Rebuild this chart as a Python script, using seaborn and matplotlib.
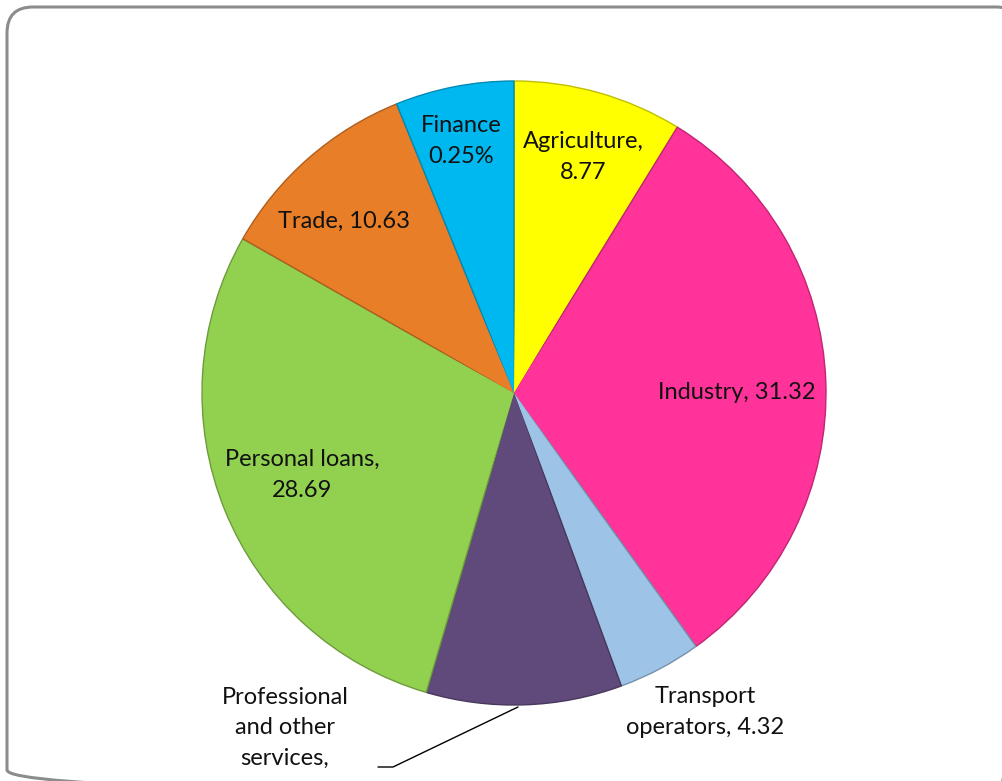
import matplotlib
matplotlib.use("Agg")
import matplotlib.pyplot as plt
from matplotlib.patches import FancyBboxPatch, Wedge
import matplotlib.colors as mcolors
import seaborn as sns
import numpy as np

# ---- data ----
categories = ["Agriculture", "Industry", "Transport operators",
              "Professional and other services", "Personal loans", "Trade", "Finance"]
values = [8.77, 31.32, 4.32, 10.13, 28.69, 10.63, 6.14]
label_texts = ["Agriculture,\n8.77", "Industry, 31.32", "Transport\noperators, 4.32",
               "Professional\nand other\nservices,", "Personal loans,\n28.69",
               "Trade, 10.63", "Finance\n0.25%"]
colors = ["#FFFF00", "#FF3399", "#9DC3E6", "#604A7B", "#92D050", "#E87E28", "#00B8F0"]

sns.set_theme(style="white")
plt.rcParams["font.family"] = ["Lato", "DejaVu Sans"]
palette = sns.color_palette(colors)

W, H = 1003, 781
fig = plt.figure(figsize=(W / 100, H / 100), dpi=100)

# rounded frame drawn in pixel coordinates (partly outside the image)
bg = fig.add_axes([0, 0, 1, 1])
bg.set_xlim(0, W)
bg.set_ylim(H, 0)
bg.axis("off")
frame = FancyBboxPatch((7, 7), 1022 - 7, 796 - 7, boxstyle="round,pad=0,rounding_size=26",
                       fill=False, edgecolor="#8C8C8C", linewidth=2.2)
bg.add_patch(frame)

cx, cy, R = 514, 393, 312
ax = fig.add_axes([(cx - R) / W, 1 - (cy + R) / H, 2 * R / W, 2 * R / H])
wedges, _ = ax.pie(values, colors=palette, startangle=90, counterclock=False,
                   radius=1.0, wedgeprops=dict(linewidth=1.0))
for w, c in zip(wedges, palette):
    dark = tuple(np.array(mcolors.to_rgb(c)) * 0.75)
    w.set_edgecolor(dark)
    inner = Wedge(w.center, 0.975, w.theta1 + 0.6, w.theta2 - 0.6,
                  facecolor=c, edgecolor="none")
    ax.add_patch(inner)
ax.set_xlim(-1, 1)
ax.set_ylim(-1, 1)
ax.set_aspect("equal")
ax.axis("off")

def to_data(px, py):
    return (px - cx) / R, (cy - py) / R

label_pix = [(583, 157), (737, 392), (705, 712), (285, 728), (302, 475), (344, 221), (461, 141)]
fs = 17
for txt, (px, py) in zip(label_texts, label_pix):
    x, y = to_data(px, py)
    ax.text(x, y, txt, ha="center", va="center", fontsize=fs, color="#111111",
            linespacing=1.55, clip_on=False)

# leader line for professional services
x0, y0 = to_data(518, 707)
x1, y1 = to_data(393, 767)
x2, y2 = to_data(378, 767)
ax.plot([x0, x1, x2], [y0, y1, y2], color="black", linewidth=1.0, clip_on=False)

fig.savefig("out.png", dpi=100)
